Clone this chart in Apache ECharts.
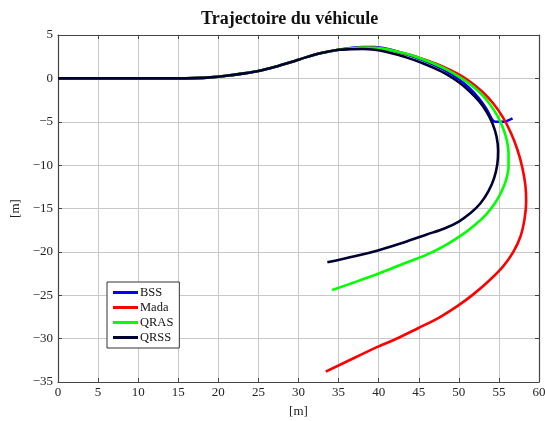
<!DOCTYPE html>
<html>
<head>
<meta charset="utf-8">
<script src="https://cdn.jsdelivr.net/npm/echarts@6/dist/echarts.min.js"></script>
<style>
  html, body { margin: 0; padding: 0; background: #fff; }
  #traj { width: 545px; height: 421px; }
</style>
</head>
<body>
<div id="traj"></div>
<script>
// trajectory points [x, y] in metres
var startPath = [[0, 0], [5, 0], [10, 0], [15, 0], [17, 0.03], [19, 0.12], [21, 0.3], [23, 0.55],
    [25, 0.85], [27, 1.3], [29, 1.85], [31, 2.45], [33, 2.95], [35, 3.3]];

var bss = startPath.concat([[36.5, 3.5], [38, 3.62], [39.5, 3.6], [41, 3.4], [42.5, 3.05],
    [44, 2.6], [45.5, 2.1], [47, 1.5], [48.5, 0.8], [50, -0.1], [51.3, -1.1], [52.5, -2.3],
    [53.5, -3.6], [54.2, -4.8], [54.6, -5.0], [55.5, -5.0], [56.7, -4.6]]);

var mada = startPath.concat([[36.5, 3.45], [38, 3.55], [39.5, 3.52], [41, 3.35], [42.5, 3.05],
    [44, 2.7], [45.5, 2.25], [47, 1.75], [48.5, 1.15], [50, 0.45], [51.5, -0.45], [53, -1.6],
    [54.3, -2.9], [55.5, -4.5], [56.5, -6.3], [57.3, -8.2], [57.9, -10.2], [58.3, -12.3],
    [58.4, -14.2], [58.2, -16.2], [57.7, -18.2], [56.8, -20], [55.5, -21.7], [53.8, -23.3],
    [51.8, -24.9], [49.9, -26.2], [47.5, -27.6], [44.9, -28.8], [42.5, -29.9], [40, -30.9],
    [37, -32.2], [33.4, -33.8]]);

var qras = startPath.concat([[36.5, 3.45], [38, 3.55], [39.5, 3.52], [41, 3.35], [42.5, 3.05],
    [44, 2.7], [45.5, 2.2], [47, 1.65], [48.5, 1.0], [50, 0.2], [51.5, -0.75], [52.8, -1.8],
    [53.9, -3.0], [54.8, -4.3], [55.5, -5.7], [56.0, -7.2], [56.2, -8.7], [56.2, -10.2],
    [55.9, -11.7], [55.3, -13.1], [54.5, -14.4], [53.4, -15.7], [52.0, -16.9], [50.3, -18.1],
    [48.2, -19.3], [45.8, -20.4], [43, -21.4], [40, -22.5], [37, -23.5], [34.2, -24.4]]);

var qrss = startPath.concat([[36.5, 3.35], [38, 3.38], [39.5, 3.3], [41, 3.05], [42.5, 2.7],
    [44, 2.25], [45.5, 1.75], [47, 1.15], [48.5, 0.45], [50, -0.45], [51.3, -1.45], [52.5, -2.6],
    [53.5, -3.9], [54.2, -5.2], [54.7, -6.7], [54.9, -8.3], [54.8, -9.9], [54.4, -11.5],
    [53.7, -13.0], [52.7, -14.4], [51.5, -15.5], [50.0, -16.5], [48.2, -17.3], [46, -18.0],
    [43.5, -18.8], [40, -19.8], [37, -20.5], [33.6, -21.2]]);

var seriesNames = ['BSS', 'Mada', 'QRAS', 'QRSS'];
var seriesColors = ['#0000ff', '#ff0000', '#00ff00', '#000033'];
var seriesData = [bss, mada, qras, qrss];

var fontFam = '"Liberation Serif", "DejaVu Serif", serif';

function minusFmt(v) {
    return v < 0 ? '\u2212' + Math.abs(v) : String(v);
}

var chartDom = document.getElementById('traj');
var chart = echarts.init(chartDom);

var series = [];
for (var i = 0; i < seriesData.length; i++) {
    series.push({
        name: seriesNames[i],
        type: 'line',
        data: seriesData[i],
        smooth: 0.3,
        showSymbol: false,
        symbol: 'none',
        lineStyle: { color: seriesColors[i], width: 2.6 },
        itemStyle: { color: seriesColors[i] },
        z: 3 + i
    });
}

var option = {
    animation: false,
    backgroundColor: '#fff',
    textStyle: { fontFamily: fontFam },
    title: {
        text: 'Trajectoire du véhicule',
        left: 196,
        top: 5,
        textStyle: { fontFamily: fontFam, fontSize: 18, fontWeight: 'bold', color: '#111' }
    },
    legend: {
        data: seriesNames,
        orient: 'vertical',
        left: 107,
        top: 282,
        icon: 'rect',
        itemWidth: 25,
        itemHeight: 3,
        itemGap: 2,
        padding: [4, 6, 4, 6],
        borderColor: '#333',
        borderWidth: 1,
        backgroundColor: '#fff',
        textStyle: { fontFamily: fontFam, fontSize: 12.5, color: '#111', padding: [0, 0, 0, -3] }
    },
    grid: { left: 58, right: 6, top: 35, bottom: 39, containLabel: false, outerBoundsMode: 'none' },
    xAxis: [{
        type: 'value',
        min: 0, max: 60, interval: 5,
        name: '[m]',
        nameLocation: 'middle',
        nameGap: 23,
        nameTextStyle: { fontFamily: fontFam, fontSize: 13, color: '#222' },
        axisLine: { show: true, onZero: false, lineStyle: { color: '#444', width: 1.2 } },
        axisTick: { show: true, inside: true, length: 4, lineStyle: { color: '#444' } },
        axisLabel: { fontFamily: fontFam, fontSize: 13, color: '#222', margin: 4 },
        splitLine: { show: true, lineStyle: { color: '#c8c8c8', width: 1 } }
    }, {
        type: 'value',
        position: 'top',
        min: 0, max: 60, interval: 5,
        axisLine: { show: true, onZero: false, lineStyle: { color: '#444', width: 1.2 } },
        axisTick: { show: true, inside: true, length: 4, lineStyle: { color: '#444' } },
        axisLabel: { show: false },
        splitLine: { show: false }
    }],
    yAxis: [{
        type: 'value',
        min: -35, max: 5, interval: 5,
        name: '[m]',
        nameLocation: 'middle',
        nameGap: 36,
        nameRotate: 90,
        nameTextStyle: { fontFamily: fontFam, fontSize: 13, color: '#222' },
        axisLine: { show: true, onZero: false, lineStyle: { color: '#444', width: 1.2 } },
        axisTick: { show: true, inside: true, length: 4, lineStyle: { color: '#444' } },
        axisLabel: { fontFamily: fontFam, fontSize: 13, color: '#222', margin: 5, formatter: minusFmt },
        splitLine: { show: true, lineStyle: { color: '#c8c8c8', width: 1 } }
    }, {
        type: 'value',
        position: 'right',
        min: -35, max: 5, interval: 5,
        axisLine: { show: true, onZero: false, lineStyle: { color: '#444', width: 1.2 } },
        axisTick: { show: true, inside: true, length: 4, lineStyle: { color: '#444' } },
        axisLabel: { show: false },
        splitLine: { show: false }
    }],
    series: series
};

if (option && typeof option === 'object') {
    chart.setOption(option, true);
}
</script>
</body>
</html>
